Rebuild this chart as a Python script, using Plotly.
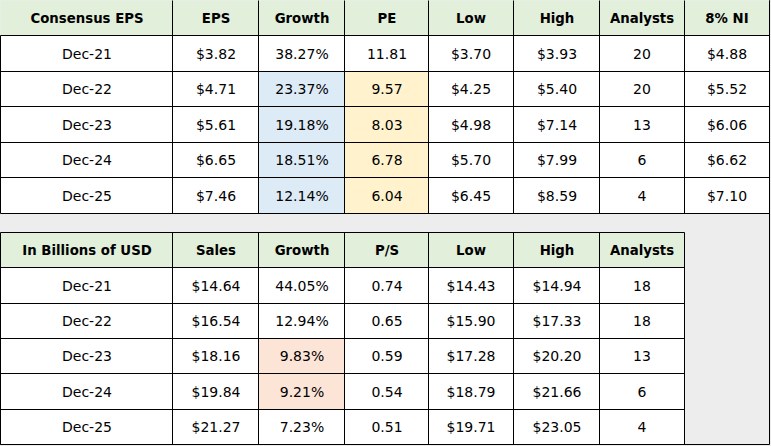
import plotly.graph_objects as go

# ---- EPS table data ----
eps_periods = ["Dec-21", "Dec-22", "Dec-23", "Dec-24", "Dec-25"]
eps_values = [3.82, 4.71, 5.61, 6.65, 7.46]
eps_growth = [38.27, 23.37, 19.18, 18.51, 12.14]
eps_pe = [11.81, 9.57, 8.03, 6.78, 6.04]
eps_low = [3.70, 4.25, 4.98, 5.70, 6.45]
eps_high = [3.93, 5.40, 7.14, 7.99, 8.59]
eps_analysts = [20, 20, 13, 6, 4]
eps_ni8 = [4.88, 5.52, 6.06, 6.62, 7.10]
eps_headers = ["Consensus EPS", "EPS", "Growth", "PE", "Low", "High", "Analysts", "8% NI"]

# ---- Sales table data ----
sales_periods = ["Dec-21", "Dec-22", "Dec-23", "Dec-24", "Dec-25"]
sales_values = [14.64, 16.54, 18.16, 19.84, 21.27]
sales_growth = [44.05, 12.94, 9.83, 9.21, 7.23]
sales_ps = [0.74, 0.65, 0.59, 0.54, 0.51]
sales_low = [14.43, 15.90, 17.28, 18.79, 19.71]
sales_high = [14.94, 17.33, 20.20, 21.66, 23.05]
sales_analysts = [18, 18, 13, 6, 4]
sales_headers = ["In Billions of USD", "Sales", "Growth", "P/S", "Low", "High", "Analysts"]

# ---- layout (pixel grid) ----
W, H = 771, 446
col_lines = [0, 172, 258, 344, 428, 513, 599, 684, 769]
top_rows = [0, 35, 71, 106, 142, 177, 213]
bot_rows = [232, 267, 303, 338, 373, 409, 444]

# fill codes: 0 white, 1 header green, 2 blue, 3 yellow, 4 orange
COLORS = ["#FFFFFF", "#E2EFDA", "#DDEBF7", "#FFF2CC", "#FCE4D6"]
BG = "#EDEDED"
n = len(COLORS)
cscale = []
for i, c in enumerate(COLORS):
    cscale.append([max(0, (i - 0.5) / (n - 1)), c])
    cscale.append([min(1, (i + 0.5) / (n - 1)), c])

def usd(v):
    return [f"${x:.2f}" for x in v]

def pct(v):
    return [f"{x:.2f}%" for x in v]

def num(v):
    return [f"{x:.2f}" for x in v]

def transpose(cols):
    return [list(r) for r in zip(*cols)]

eps_cols = [eps_periods, usd(eps_values), pct(eps_growth), num(eps_pe),
            usd(eps_low), usd(eps_high), [str(a) for a in eps_analysts], usd(eps_ni8)]
eps_code_cols = [[0] * 5 for _ in eps_cols]
eps_code_cols[2] = [0, 2, 2, 2, 2]
eps_code_cols[3] = [0, 3, 3, 3, 3]

sales_cols = [sales_periods, usd(sales_values), pct(sales_growth), num(sales_ps),
              usd(sales_low), usd(sales_high), [str(a) for a in sales_analysts]]
sales_code_cols = [[0] * 5 for _ in sales_cols]
sales_code_cols[2] = [0, 0, 4, 4, 0]

FONT = "DejaVu Sans"
cell_font = dict(family=FONT, size=14, color="#000000")
head_font = dict(family=FONT, size=13.3, color="#000000", weight="bold")

def edges(lines):
    return [v + 0.5 for v in lines]

def add_block(fig, xl, yl, text, codes, font):
    fig.add_trace(go.Heatmap(
        x=edges(xl), y=edges(yl), z=codes, text=text, texttemplate="%{text}",
        textfont=font, colorscale=cscale, zmin=0, zmax=n - 1, showscale=False,
        hoverinfo="skip",
    ))

fig = go.Figure()
ncol_top = len(eps_cols)
ncol_bot = len(sales_cols)
# headers
add_block(fig, col_lines[:ncol_top + 1], top_rows[:2], [eps_headers], [[1] * ncol_top], head_font)
add_block(fig, col_lines[:ncol_bot + 1], bot_rows[:2], [sales_headers], [[1] * ncol_bot], head_font)
# bodies
add_block(fig, col_lines[:ncol_top + 1], top_rows[1:], transpose(eps_cols), transpose(eps_code_cols), cell_font)
add_block(fig, col_lines[:ncol_bot + 1], bot_rows[1:], transpose(sales_cols), transpose(sales_code_cols), cell_font)

# grid lines
lx, ly = [], []
def seg(x0, y0, x1, y1):
    lx.extend([x0 + 0.5, x1 + 0.5, None])
    ly.extend([y0 + 0.5, y1 + 0.5, None])

for c in col_lines[1:ncol_top + 1]:
    seg(c, top_rows[0], c, top_rows[-1])
for r in top_rows[1:]:
    seg(col_lines[0], r, col_lines[ncol_top], r)
for c in col_lines[:ncol_bot + 1]:
    seg(c, bot_rows[0], c, bot_rows[-1])
for r in bot_rows:
    seg(col_lines[0], r, col_lines[ncol_bot], r)
# outer frame around grey area
seg(col_lines[-1], top_rows[0], col_lines[-1], bot_rows[-1])
seg(col_lines[0], bot_rows[-1], col_lines[-1], bot_rows[-1])
seg(col_lines[0], top_rows[1], col_lines[0], top_rows[-1])

fig.add_trace(go.Scatter(x=lx, y=ly, mode="lines", line=dict(color="#000000", width=1),
                         hoverinfo="skip", showlegend=False))

fig.update_xaxes(range=[0, W], visible=False, fixedrange=True)
fig.update_yaxes(range=[H, 0], visible=False, fixedrange=True)
fig.update_layout(width=W, height=H, margin=dict(l=0, r=0, t=0, b=0, pad=0),
                  paper_bgcolor=BG, plot_bgcolor=BG, showlegend=False)
fig.write_html("out.html", config={"displayModeBar": False},
               post_script="document.body.style.margin='0';")
